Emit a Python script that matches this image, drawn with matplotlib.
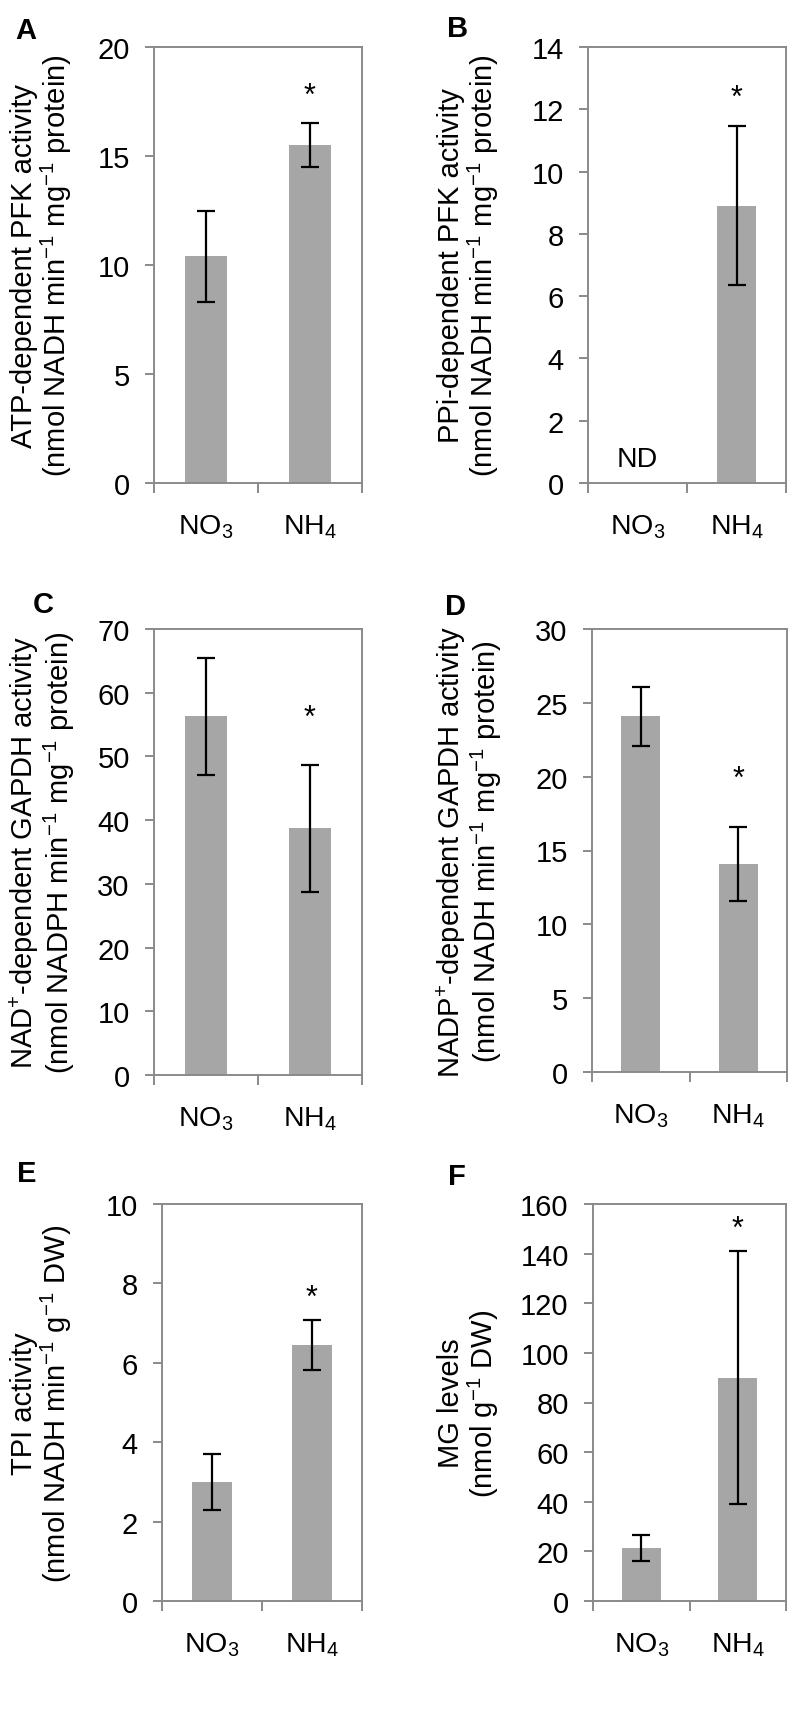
import numpy as np
import matplotlib
matplotlib.use("Agg")
import matplotlib.pyplot as plt

plt.rcParams['font.family'] = ['Liberation Sans', 'DejaVu Sans']
plt.rcParams['mathtext.fontset'] = 'custom'
plt.rcParams['mathtext.rm'] = 'Liberation Sans'
plt.rcParams['mathtext.it'] = 'Liberation Sans:italic'
plt.rcParams['mathtext.bf'] = 'Liberation Sans:bold'

# ---- data ----
categories = ['NO$_3$', 'NH$_4$']

atp_pfk_mean = [10.4, 15.5]
atp_pfk_err = [2.1, 1.0]

ppi_pfk_mean = [np.nan, 8.9]   # NO3: not detected (ND)
ppi_pfk_err = [np.nan, 2.55]

nad_gapdh_mean = [56.3, 38.7]
nad_gapdh_err = [9.2, 10.0]

nadp_gapdh_mean = [24.1, 14.1]
nadp_gapdh_err = [2.0, 2.5]

tpi_mean = [3.0, 6.45]
tpi_err = [0.7, 0.63]

mg_mean = [21.4, 90.0]
mg_err = [5.2, 51.0]

star_y = [18.2, 12.7, 57.6, 20.5, 7.9, 154.0]

ylabels = [
    'ATP-dependent PFK activity\n(nmol NADH min$^{-1}$ mg$^{-1}$ protein)',
    'PPi-dependent PFK activity\n(nmol NADH min$^{-1}$ mg$^{-1}$ protein)',
    'NAD$^{+}$-dependent GAPDH activity\n(nmol NADPH min$^{-1}$ mg$^{-1}$ protein)',
    'NADP$^{+}$-dependent GAPDH activity\n(nmol NADH min$^{-1}$ mg$^{-1}$ protein)',
    'TPI activity\n(nmol NADH min$^{-1}$ g$^{-1}$ DW)',
    'MG levels\n(nmol g$^{-1}$ DW)',
]
panel_letters = ['A', 'B', 'C', 'D', 'E', 'F']
ylims = [(0, 20, 5), (0, 14, 2), (0, 70, 10), (0, 30, 5), (0, 10, 2), (0, 160, 20)]

means = [atp_pfk_mean, ppi_pfk_mean, nad_gapdh_mean, nadp_gapdh_mean, tpi_mean, mg_mean]
errs = [atp_pfk_err, ppi_pfk_err, nad_gapdh_err, nadp_gapdh_err, tpi_err, mg_err]

# ---- layout (pixels in 800x1715 figure) ----
W, H = 800, 1715
axes_px = [  # left, top, right, bottom
    (154, 48, 362, 484),
    (588, 48, 786, 484),
    (154, 630, 362, 1076),
    (592, 630, 787, 1073),
    (162, 1205, 362, 1602),
    (593, 1205, 786, 1602),
]
ylabel_cx = [42, 469, 42, 469, 42, 469]
letter_pos = [(15, 17), (447, 15), (33, 591), (445, 593), (17, 1160), (448, 1163)]

fig = plt.figure(figsize=(W / 100, H / 100), dpi=100)

bar_color = '#a6a6a6'
spine_color = '#8a8a8a'

for i in range(6):
    l, t, r, b = axes_px[i]
    ax = fig.add_axes([l / W, 1 - b / H, (r - l) / W, (b - t) / H])
    x = np.arange(len(categories))
    m = np.array(means[i], dtype=float)
    e = np.array(errs[i], dtype=float)
    ok = ~np.isnan(m)
    ax.bar(x[ok], m[ok], width=0.4, color=bar_color, zorder=2)
    ax.errorbar(x[ok], m[ok], yerr=e[ok], fmt='none', ecolor='black',
                elinewidth=1.6, capsize=6.5, capthick=1.6, zorder=3)
    if not ok[0]:
        ax.text(0, 0.55, 'ND', ha='center', va='baseline', fontsize=20.5)
    ax.annotate('*', xy=(1, star_y[i]), xytext=(0, -13), textcoords='offset points',
                ha='center', va='baseline', fontsize=22)

    y0, y1, ys = ylims[i]
    ax.set_ylim(y0, y1)
    ax.set_yticks(np.arange(y0, y1 + ys / 2, ys))
    ax.set_xlim(-0.5, 1.5)
    ax.set_xticks([-0.5, 0.5, 1.5])
    ax.set_xticklabels([])
    ax.set_xticks(x, minor=True)
    ax.set_xticklabels(categories, minor=True)
    ax.tick_params(axis='x', which='minor', length=0, pad=21, labelsize=20.5)
    ax.tick_params(axis='x', which='major', length=7, width=1.4, color=spine_color, direction='out')
    ax.tick_params(axis='y', which='major', length=6.5, width=1.4, color=spine_color,
                   direction='out', labelsize=21, pad=11)
    for s in ax.spines.values():
        s.set_color(spine_color)
        s.set_linewidth(1.4)

    fig.text(ylabel_cx[i] / W, 1 - ((t + b) / 2) / H, ylabels[i], rotation=90,
             ha='center', va='center', fontsize=21, multialignment='center',
             linespacing=1.05)
    lx, ly = letter_pos[i]
    fig.text(lx / W, 1 - ly / H, panel_letters[i], ha='left', va='top',
             fontsize=21, fontweight='bold')

fig.savefig('out.png', dpi=100)
